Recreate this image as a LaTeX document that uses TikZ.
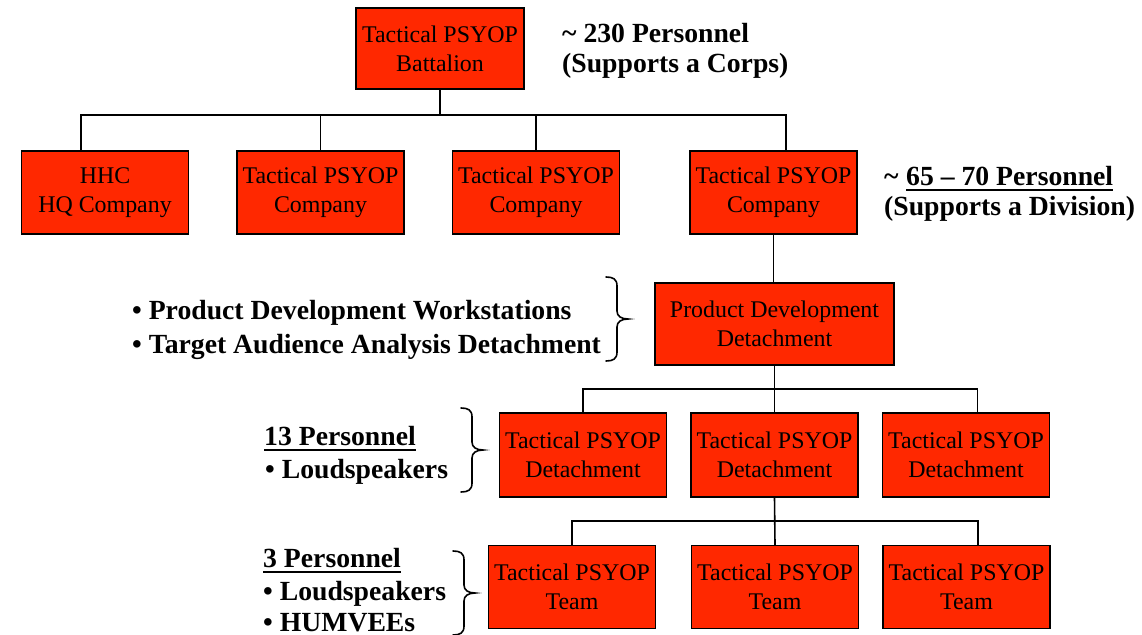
\documentclass[tikz,border=0pt]{standalone}
\usepackage{fontspec}
\setmainfont{Liberation Serif}
\definecolor{boxred}{RGB}{255,40,0}
\tikzset{
  rbrace/.pic={\draw[line width=1.6pt, line cap=round]
    (0,0) .. controls (7,0) and (11,2) .. (11,9) -- (11,34)
    .. controls (11,39) and (15,42) .. (22,42)
    .. controls (15,42) and (11,45) .. (11,50) -- (11,75)
    .. controls (11,82) and (7,84) .. (0,84);}
}
\begin{document}
\begin{tikzpicture}[x=1pt,y=-1pt,
  box/.style={draw=black, fill=boxred, line width=1.2pt, inner sep=0pt, align=center,
    font=\fontsize{23.9}{29}\selectfont},
  bw/.style={minimum width=167pt, minimum height=83pt},
  note/.style={inner sep=0pt, anchor=base west, font=\bfseries\fontsize{27.7}{33}\selectfont},
  conn/.style={draw=black, line width=1.6pt},
  uline/.style={draw=black, line width=1.8pt},
  ]
\useasboundingbox (0,0) rectangle (1142,634);

% boxes
\node[box, minimum width=168pt, minimum height=81pt] (bat) at (440,48.5) {Tactical PSYOP\\Battalion};
\node[box, bw] (hhc) at (105,192.5) {HHC\\HQ Company};
\node[box, bw] (c2) at (320.5,192.5) {Tactical PSYOP\\Company};
\node[box, bw] (c3) at (536,192.5) {Tactical PSYOP\\Company};
\node[box, bw] (c4) at (773.5,192.5) {Tactical PSYOP\\Company};
\node[box, minimum width=239pt, minimum height=82pt] (pd) at (774.5,324) {Product Development\\Detachment};
\node[box, bw, minimum height=84pt] (d1) at (583,455) {Tactical PSYOP\\Detachment};
\node[box, bw, minimum height=84pt] (d2) at (774.5,455) {Tactical PSYOP\\Detachment};
\node[box, bw, minimum height=84pt] (d3) at (966,455) {Tactical PSYOP\\Detachment};
\node[box, bw] (t1) at (572,587) {Tactical PSYOP\\Team};
\node[box, bw] (t2) at (775,587) {Tactical PSYOP\\Team};
\node[box, bw] (t3) at (966.5,587) {Tactical PSYOP\\Team};

% connectors
\coordinate (busA) at (0,115);
\coordinate (busB) at (0,389);
\coordinate (busC) at (0,521);
\draw[conn] (bat.south) -- (bat.south |- busA);
\draw[conn] ([xshift=-24pt]hhc.north) |- ([xshift=12.5pt]c4.north |- busA) -- ([xshift=12.5pt]c4.north);
\draw[conn] (c2.north) -- (c2.north |- busA);
\draw[conn] (c3.north) -- (c3.north |- busA);
\draw[conn] (c4.south) -- (c4.south |- pd.north);
\draw[conn] (pd.south) -- (d2.north);
\draw[conn] (d1.north) |- ([xshift=11.5pt]d3.north |- busB) -- ([xshift=11.5pt]d3.north);
\draw[conn] (d2.south) -- (t2.north);
\draw[conn] (t1.north) |- ([xshift=11.5pt]t3.north |- busC) -- ([xshift=11.5pt]t3.north);

% braces
\pic at (606,277) {rbrace};
\pic at (461,408) {rbrace};
\pic at (453,551) {rbrace};

% notes
\node[note] (n230) at (562,42) {\textasciitilde{} 230 Personnel};
\node[note] (ncorps) at (562,72) {(Supports a Corps)};
\node[note] (n65t) at (884,185) {\textasciitilde};
\node[note] (n65) at (906,185) {65 – 70 Personnel};
\node[note] (ndiv) at (884,215) {(Supports a Division)};
\node[note] (npd1) at (132,319) {• Product Development Workstations};
\node[note] (npd2) at (132,353) {• Target Audience Analysis Detachment};
\node[note] (n13) at (264,445) {13 Personnel};
\node[note] (nls1) at (265,478) {• Loudspeakers};
\node[note] (n3) at (263,567) {3 Personnel};
\node[note] (nls2) at (263,600) {• Loudspeakers};
\node[note] (nhum) at (263,631) {• HUMVEEs};

% underlines
\draw[uline] ([yshift=-5pt]n65.base west) -- ([yshift=-5pt]n65.base east);
\draw[uline] ([yshift=-5pt]n13.base west) -- ([yshift=-5pt]n13.base east);
\draw[uline] ([yshift=-5pt]n3.base west) -- ([yshift=-5pt]n3.base east);
\end{tikzpicture}
\end{document}
